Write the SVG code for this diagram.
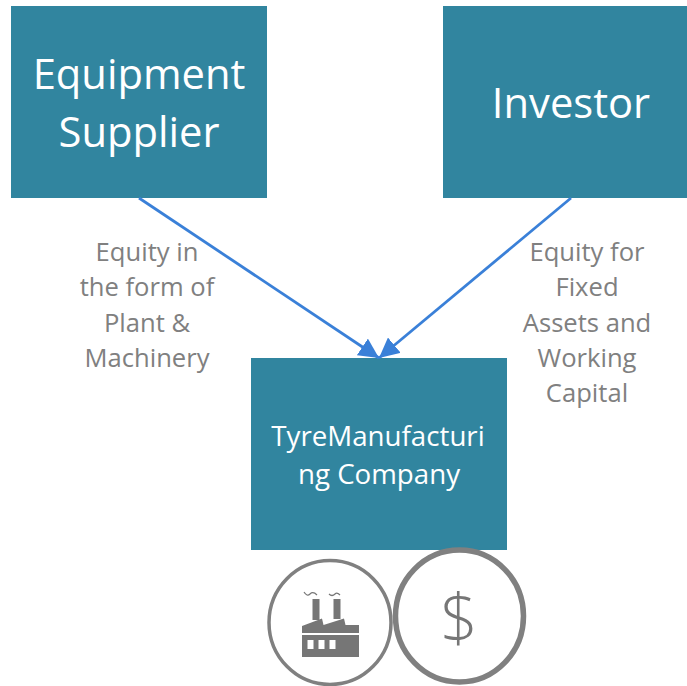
<svg xmlns="http://www.w3.org/2000/svg" width="687" height="686" viewBox="0 0 687 686">
<style>
.box{fill:#31859f}
.w{fill:#fff;font-family:"Open Sans",sans-serif;text-anchor:middle;font-size:41.700px}
.s{font-size:27.700px}
.g{fill:#808080;font-family:"Open Sans",sans-serif;font-size:25.600px;text-anchor:middle}
.c{stroke:#3a80d8;stroke-width:2.800;fill:none;marker-end:url(#a)}
.ic{fill:#767676}
</style>
<defs><marker id="a" markerUnits="userSpaceOnUse" markerWidth="22" markerHeight="20" refX="20" refY="10" orient="auto"><path d="M0 0L20 10L0 20Z" fill="#3a80d8"/></marker></defs>
<rect width="687" height="686" fill="#fff"/>
<g id="equipment-supplier"><rect class="box" x="11" y="6" width="256" height="192"/><text class="w" x="139" y="89">Equipment</text><text class="w" x="139" y="147">Supplier</text></g>
<g id="investor"><rect class="box" x="443" y="6" width="244" height="192"/><text class="w" x="571" y="118">Investor</text></g>
<g id="company"><rect class="box" x="251" y="358" width="256" height="192"/><text class="w s" x="378" y="446">TyreManufacturi</text><text class="w s" x="379" y="484">ng Company</text></g>
<g id="connectors"><path class="c" d="M139 198L379 358"/><path class="c" d="M571 198L379 358"/></g>
<g id="label-left"><text class="g" x="147" y="261">Equity in</text><text class="g" x="147" y="296">the form of</text><text class="g" x="147" y="332">Plant &amp;</text><text class="g" x="147" y="367">Machinery</text></g>
<g id="label-right"><text class="g" x="587" y="261">Equity for</text><text class="g" x="587" y="296">Fixed</text><text class="g" x="587" y="332">Assets and</text><text class="g" x="587" y="367">Working</text><text class="g" x="587" y="402">Capital</text></g>
<g id="factory-icon"><ellipse cx="330" cy="622.500" rx="61" ry="62" fill="#fff" stroke="#808080" stroke-width="3.500"/>
<path class="ic" d="M302 626L322 618.500L323.500 625L344 618.500L345.500 625L359 625L359 633L302 633Z"/>
<rect class="ic" x="312.500" y="599" width="7" height="21"/><rect class="ic" x="333.500" y="599" width="7" height="20"/>
<path class="ic" fill-rule="evenodd" d="M302 635H359V657H302ZM307.500 640V649H313.500V640ZM318.500 640V649H324.500V640ZM329.500 640V649H335.500V640Z"/>
<path d="M304 592Q307 597 310 594Q313 591 317 595M329 594Q332 597 335 594Q337 592 340 595" fill="none" stroke="#767676" stroke-width="1.200"/></g>
<g id="dollar-icon"><ellipse cx="459.500" cy="616" rx="64" ry="66" fill="#fff" stroke="#808080" stroke-width="5.500"/><text x="459" y="642" font-family="Open Sans,sans-serif" font-size="66" font-weight="300" fill="#767676" text-anchor="middle">$</text></g>
</svg>
